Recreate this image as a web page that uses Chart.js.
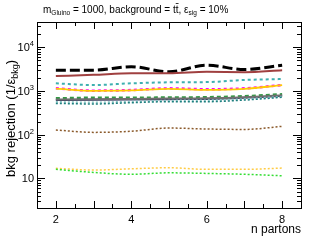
<!DOCTYPE html>
<html><head><meta charset="utf-8">
<script src="https://cdn.jsdelivr.net/npm/chart.js@4/dist/chart.umd.min.js"></script>
<style>html,body{margin:0;padding:0;background:#fff}#wrap{width:310px;height:240px}</style>
</head><body><div id="wrap"><canvas id="c" width="310" height="240"></canvas></div>
<script>
const nPartons = [2, 3, 4, 5, 6, 7, 8];
const blackDashed = [3000, 3000, 3600, 2750, 3900, 3100, 3900];
const redSolid = [2200, 2350, 2550, 2550, 2750, 2700, 3000];
const tealDashed = [1500, 1370, 1500, 1580, 1600, 1790, 1880];
const yellowSolid = [1130, 1010, 1030, 1120, 1060, 1120, 1360];
const magentaDotted = [1150, 1020, 1050, 1150, 1100, 1150, 1370];
const greenDashed = [680, 700, 700, 710, 720, 760, 840];
const graySolid = [640, 650, 660, 670, 680, 720, 800];
const navySolid = [620, 630, 640, 650, 660, 700, 780];
const lightTealDotted = [560, 545, 570, 600, 610, 650, 740];
const tealDotted = [520, 505, 540, 570, 570, 620, 720];
const brownDotted = [128, 113, 120, 142, 135, 132, 155];
const orangeDotted = [17, 15.5, 16.6, 17.5, 16.1, 16.1, 17.2];
const greenDotted = [16.1, 13.7, 12.4, 13.4, 13.0, 12.4, 11.5];
const xTickLabels = ["2", "4", "6", "8"];
const yTickExps = [1, 2, 3, 4];

function ds(data, color, width, dash) {
  return {
    data: data.map((v, i) => ({x: nPartons[i], y: v})),
    borderColor: color, borderWidth: width, borderDash: dash || [],
    pointRadius: 0, fill: false, tension: 0.4, cubicInterpolationMode: 'monotone'
  };
}

const FONT = '"Liberation Sans", Arial, sans-serif';

const frame = {
  id: 'frame',
  afterDraw(chart) {
    const ctx = chart.ctx, a = chart.chartArea;
    const xs = chart.scales.x, ys = chart.scales.y;
    ctx.save();
    ctx.strokeStyle = '#000'; ctx.lineWidth = 1;
    ctx.strokeRect(Math.round(a.left) + 0.5, Math.round(a.top) + 0.5, Math.round(a.right - a.left), Math.round(a.bottom - a.top));
    ctx.beginPath();
    for (let v = 2; v <= 8.001; v += 0.5) {
      const px = Math.round(xs.getPixelForValue(v)) + 0.5;
      const len = (Math.abs(v - Math.round(v)) < 1e-6) ? 7 : 4;
      ctx.moveTo(px, a.bottom); ctx.lineTo(px, a.bottom - len);
      ctx.moveTo(px, a.top); ctx.lineTo(px, a.top + len);
    }
    for (let e = 0; e <= 4; e++) {
      for (let m = 1; m <= 9; m++) {
        const v = m * Math.pow(10, e);
        if (v < ys.min || v > ys.max) continue;
        const py = Math.round(ys.getPixelForValue(v)) + 0.5;
        const len = m === 1 ? 8 : 4;
        ctx.moveTo(a.left, py); ctx.lineTo(a.left + len, py);
        ctx.moveTo(a.right, py); ctx.lineTo(a.right - len, py);
      }
    }
    ctx.stroke();
    ctx.fillStyle = '#000';
    ctx.font = '11px ' + FONT; ctx.textAlign = 'center'; ctx.textBaseline = 'alphabetic';
    xTickLabels.forEach(t => {
      ctx.fillText(t, xs.getPixelForValue(parseFloat(t)), a.bottom + 15);
    });
    yTickExps.forEach(e => {
      const py = ys.getPixelForValue(Math.pow(10, e));
      ctx.textAlign = 'right';
      if (e === 1) {
        ctx.font = '11px ' + FONT; ctx.fillText('10', a.left - 3, py + 4);
      } else {
        ctx.font = '7.5px ' + FONT; ctx.fillText(String(e), a.left - 3, py - 1);
        const w = ctx.measureText(String(e)).width;
        ctx.font = '11px ' + FONT; ctx.fillText('10', a.left - 3 - w, py + 4);
      }
    });
    ctx.font = '12px ' + FONT; ctx.textAlign = 'right';
    ctx.fillText('n partons', a.right, 233);
    ctx.save();
    ctx.translate(15, 177); ctx.rotate(-Math.PI / 2);
    ctx.textAlign = 'left';
    let x = 0;
    const seg = (t, size, dy) => { ctx.font = size + 'px ' + FONT; ctx.fillText(t, x, dy); x += ctx.measureText(t).width; };
    seg('bkg rejection (1/\u03b5', 13, 0);
    seg('bkg', 9, 3);
    seg(')', 13, 0);
    ctx.restore();
    ctx.textAlign = 'left';
    x = 43;
    const tseg = (t, size, dy) => { ctx.font = size + 'px ' + FONT; ctx.fillText(t, x, 13 + dy); const w = ctx.measureText(t).width; x += w; return w; };
    tseg('m', 10, 0);
    tseg('Gluino', 6.5, 2);
    tseg(' = 1000, background = t', 10, 0);
    const tx = x;
    const tw = tseg('t', 10, 0);
    ctx.beginPath(); ctx.moveTo(tx, 3.5); ctx.lineTo(tx + tw, 3.5); ctx.lineWidth = 0.8; ctx.stroke();
    tseg(', \u03b5', 10, 0);
    tseg('sig', 6.5, 2);
    tseg(' = 10%', 10, 0);
    ctx.restore();
  }
};

new Chart(document.getElementById('c'), {
  type: 'line',
  data: {
    datasets: [
      ds(greenDotted, '#33dd33', 1.5, [2, 2]),
      ds(orangeDotted, '#ffcc44', 1.5, [2, 2]),
      ds(brownDotted, '#8b5a2b', 1.5, [2, 2]),
      ds(tealDotted, '#1f7f7f', 1.5, [2, 2]),
      ds(lightTealDotted, '#88c4c4', 2, [2, 2]),
      ds(graySolid, '#707070', 2),
      ds(navySolid, '#33335f', 2),
      ds(greenDashed, '#339944', 2.5, [4, 3]),
      ds(yellowSolid, '#ffcc00', 1.8),
      ds(magentaDotted, '#ff00ff', 2.5, [3, 3]),
      ds(tealDashed, '#3fb0b0', 2, [3, 3]),
      ds(redSolid, '#a04040', 2),
      ds(blackDashed, '#000000', 3, [10, 4])
    ]
  },
  options: {
    responsive: false, animation: false, devicePixelRatio: 1,
    layout: {padding: {left: 37, top: 22, right: 9, bottom: 32}},
    plugins: {legend: {display: false}, tooltip: {enabled: false}, title: {display: false}},
    scales: {
      x: {type: 'linear', min: 1.5, max: 8.5, display: false},
      y: {type: 'logarithmic', min: 2.1, max: 38000, display: false}
    }
  },
  plugins: [frame]
});
</script>
</body></html>
